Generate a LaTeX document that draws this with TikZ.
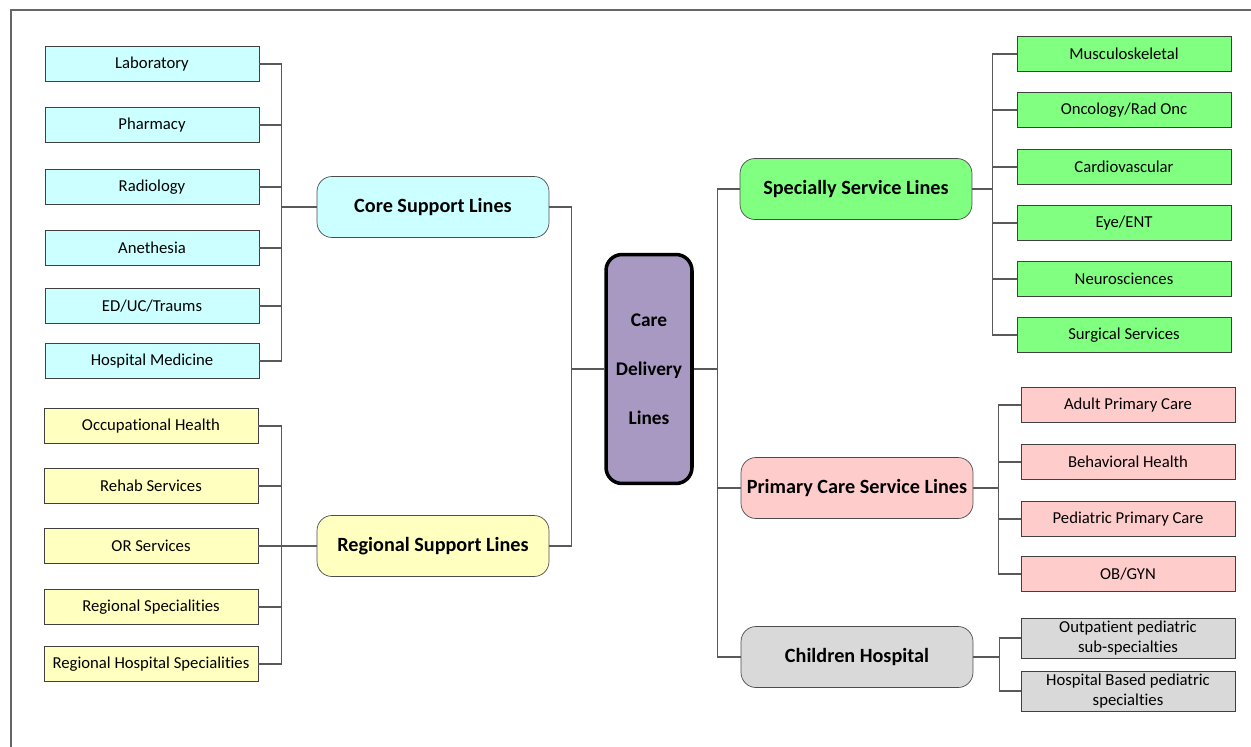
\documentclass[tikz,border=0pt]{standalone}
\usepackage{fontspec}
\setmainfont{Carlito}[Ligatures=NoCommon]
\usepackage{tikz}
\usetikzlibrary{positioning}

\definecolor{corecol}{HTML}{CCFFFF}
\definecolor{regcol}{HTML}{FFFFC0}
\definecolor{carecol}{HTML}{A899C2}
\definecolor{speccol}{HTML}{80FF80}
\definecolor{primcol}{HTML}{FFCCCC}
\definecolor{childcol}{HTML}{D9D9D9}

\begin{document}
\begin{tikzpicture}[x=0.02cm, y=-0.02cm,
  leaf/.style={draw=black!75, rectangle, minimum width=4.28cm, minimum height=0.7cm,
    inner sep=1pt, align=center, font=\fontsize{9.5}{11}\selectfont},
  hub/.style={draw=black!70, rounded corners=0.3cm, minimum width=4.64cm, minimum height=1.22cm,
    inner xsep=2pt, font=\fontsize{11.5}{14}\selectfont\bfseries},
  link/.style={draw=black!65, line width=0.6pt}]
 \useasboundingbox (0,0) rectangle (1251,747);
 \draw[black!60, line width=0.9pt] (11,747) -- (11,10) -- (1251,10);

 % centre
 \node[draw=black, line width=2pt, fill=carecol, rounded corners=0.32cm, minimum width=1.72cm,
   minimum height=4.58cm, align=center, font=\fontsize{11}{28}\selectfont\bfseries]
   (care) at (649,369) {Care\\Delivery\\Lines};

 % hubs
 \node[hub, fill=corecol] (core) at (433,207) {Core Support Lines};
 \node[hub, fill=regcol] (reg) at (433,546) {Regional Support Lines};
 \node[hub, fill=speccol] (spec) at (856,189) {Specially Service Lines};
 \node[hub, fill=primcol] (prim) at (857,488) {Primary Care Service Lines};
 \node[hub, fill=childcol] (child) at (857,657) {Children Hospital};

 % core support
 \node[leaf, fill=corecol] (lab) at (152,64) {Laboratory};
 \node[leaf, fill=corecol] (pharm) at (152,125) {Pharmacy};
 \node[leaf, fill=corecol] (rad) at (152,187) {Radiology};
 \node[leaf, fill=corecol] (anes) at (152,248) {Anethesia};
 \node[leaf, fill=corecol] (ed) at (152,306) {ED/UC/Traums};
 \node[leaf, fill=corecol] (hosp) at (152,361) {Hospital Medicine};

 % regional support
 \node[leaf, fill=regcol] (occ) at (151,426) {Occupational Health};
 \node[leaf, fill=regcol] (rehab) at (151,486) {Rehab Services};
 \node[leaf, fill=regcol] (or) at (151,546) {OR Services};
 \node[leaf, fill=regcol] (rspec) at (151,607) {Regional Specialities};
 \node[leaf, fill=regcol] (rhosp) at (151,664) {Regional Hospital Specialities};

 % specialty
 \node[leaf, fill=speccol] (musc) at (1124,54) {Musculoskeletal};
 \node[leaf, fill=speccol] (onc) at (1124,110) {Oncology/Rad Onc};
 \node[leaf, fill=speccol] (card) at (1124,167) {Cardiovascular};
 \node[leaf, fill=speccol] (eye) at (1124,223) {Eye/ENT};
 \node[leaf, fill=speccol] (neuro) at (1124,279) {Neurosciences};
 \node[leaf, fill=speccol] (surg) at (1124,335) {Surgical Services};

 % primary care
 \node[leaf, fill=primcol] (adult) at (1128,405) {Adult Primary Care};
 \node[leaf, fill=primcol] (behav) at (1128,462) {Behavioral Health};
 \node[leaf, fill=primcol] (ped) at (1128,519) {Pediatric Primary Care};
 \node[leaf, fill=primcol] (obgyn) at (1128,574) {OB/GYN};

 % children
 \node[leaf, fill=childcol, minimum height=0.8cm] (outp) at (1128,638) {Outpatient pediatric\\sub-specialties};
 \node[leaf, fill=childcol, minimum height=0.8cm] (hbased) at (1128,691) {Hospital Based pediatric\\specialties};

 % connectors
 \foreach \n in {lab,pharm,rad,anes,ed,hosp}
   \draw[link] (core.west) -- ++(-35,0) |- (\n.east);
 \foreach \n in {occ,rehab,or,rspec,rhosp}
   \draw[link] (reg.west) -- ++(-35,0) |- (\n.east);
 \foreach \n in {musc,onc,card,eye,neuro,surg}
   \draw[link] (spec.east) -- ++(20,0) |- (\n.west);
 \foreach \n in {adult,behav,ped,obgyn}
   \draw[link] (prim.east) -- ++(25,0) |- (\n.west);
 \foreach \n in {outp,hbased}
   \draw[link] (child.east) -- ++(26,0) |- (\n.west);
 \foreach \n in {core,reg}
   \draw[link] (care.west) -- ++(-33,0) |- (\n.east);
 \foreach \n in {spec,prim,child}
   \draw[link] (care.east) -- ++(24,0) |- (\n.west);
\end{tikzpicture}
\end{document}
